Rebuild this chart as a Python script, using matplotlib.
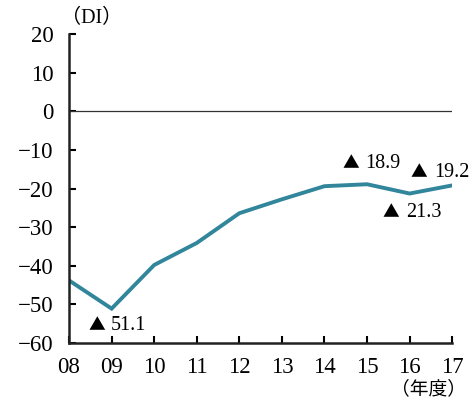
import matplotlib
matplotlib.use("Agg")
import matplotlib.pyplot as plt

# 年度と DI の値
years = ["08", "09", "10", "11", "12", "13", "14", "15", "16", "17"]
di = [-43.8, -51.1, -39.8, -34.1, -26.4, -22.8, -19.4, -18.9, -21.3, -19.2]
yticks = [20, 10, 0, -10, -20, -30, -40, -50, -60]

# ▲ のラベル (x, y, text)
notes = [(0.45, -55.4, "51.1"), (6.43, -13.5, "18.9"),
         (7.37, -26.2, "21.3"), (8.03, -15.8, "19.2")]

serif = ["Liberation Serif", "Noto Sans CJK JP", "DejaVu Sans"]
cjk = ["Noto Sans CJK JP", "DejaVu Sans"]
plt.rcParams["font.family"] = serif

fig = plt.figure(figsize=(4.73, 4.0), dpi=100)
ax = fig.add_axes([0.146, 0.1425, 0.81, 0.7725])

x = list(range(len(years)))
ax.plot(x, di, color="#31869b", lw=2.8, solid_joinstyle="miter")
ax.axhline(0, color="#333333", lw=0.9)

for nx, ny, t in notes:
    ax.text(nx, ny, "▲", fontsize=12, va="center", ha="left", family=cjk)
    ax.annotate(t, xy=(nx, ny), xytext=(16.5, 0), textcoords="offset points",
                fontsize=14.5, va="center", ha="left")

ax.set_xlim(0, 9)
ax.set_ylim(-60, 20)
ax.set_xticks(x)
ax.set_xticklabels(years)
ax.set_yticks(yticks)
ax.set_yticklabels([str(v).replace("-", "−") if v < 0 else str(v) for v in yticks])
ax.tick_params(direction="in", length=5, width=1.5, labelsize=16.5)
ax.tick_params(axis="x", pad=10)
ax.tick_params(axis="y", pad=11)
for s in ["top", "right"]:
    ax.spines[s].set_visible(False)
for s in ["left", "bottom"]:
    ax.spines[s].set_linewidth(1.8)
    ax.spines[s].set_color("#222222")

fig.text(0.128, 0.955, "（DI）", fontsize=14.5, ha="left", va="center")
fig.text(0.985, 0.002, "（年度）", fontsize=13.5, ha="right", va="bottom", family=cjk)

fig.savefig("out.png", dpi=100)
